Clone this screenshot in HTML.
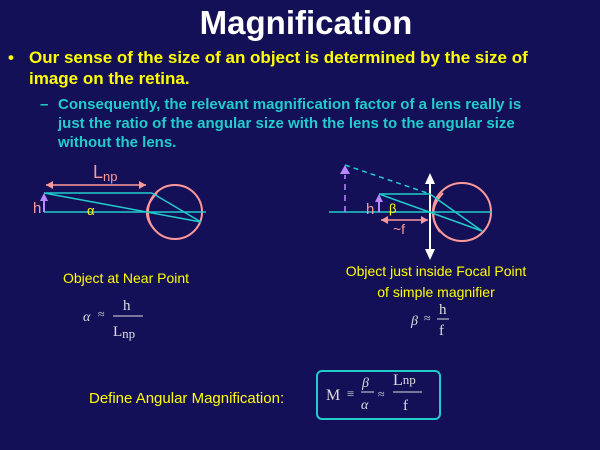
<!DOCTYPE html>
<html><head><style>
body{margin:0;background:#141058;}
svg{display:block}
text{font-family:"Liberation Sans",sans-serif}
.s text{font-family:"Liberation Serif",serif}
</style></head><body>
<svg width="600" height="450" viewBox="0 0 600 450" xmlns="http://www.w3.org/2000/svg">
<rect width="600" height="450" fill="#141058"/>
<text x="306" y="34" font-size="33" font-weight="bold" fill="#fff" text-anchor="middle">Magnification</text>
<text x="8" y="63" font-size="17" font-weight="bold" fill="#ffff00">•</text>
<text x="29" y="63" font-size="17" font-weight="bold" fill="#ffff00">Our sense of the size of an object is determined by the size of</text>
<text x="29" y="84" font-size="17" font-weight="bold" fill="#ffff00">image on the retina.</text>
<text x="40" y="109" font-size="15" font-weight="bold" fill="#22cccc">–</text>
<text x="58" y="109" font-size="15" font-weight="bold" fill="#22cccc">Consequently, the relevant magnification factor of a lens really is</text>
<text x="58" y="128" font-size="15" font-weight="bold" fill="#22cccc">just the ratio of the angular size with the lens to the angular size</text>
<text x="58" y="147" font-size="15" font-weight="bold" fill="#22cccc">without the lens.</text>

<!-- left diagram -->
<g stroke-width="1.5" fill="none">
<circle cx="175" cy="212" r="27" stroke="#ff9999" stroke-width="2"/>
<path d="M157 193 Q138 212 155 230" stroke="#ff9999" stroke-width="2"/>
<line x1="46" y1="185" x2="146" y2="185" stroke="#ff9999"/>
<line x1="44" y1="193" x2="152" y2="193" stroke="#22cccc"/>
<line x1="152" y1="193" x2="201" y2="222" stroke="#22cccc"/>
<line x1="44" y1="193" x2="201" y2="222" stroke="#22cccc"/>
<line x1="44" y1="212" x2="206" y2="212" stroke="#22cccc"/>
<line x1="44" y1="212" x2="44" y2="198" stroke="#bb88ff" stroke-width="2"/>
</g>
<path d="M46 185 l7-4 v8z M146 185 l-7-4 v8z" fill="#ff9999"/>
<path d="M44 193 l-4 8 h8z" fill="#bb88ff"/>
<text x="93" y="178" font-size="18" fill="#ff9999">L<tspan font-size="13" dy="3">np</tspan></text>
<text x="33" y="213" font-size="15" fill="#ff9999">h</text>
<text x="87" y="215" font-size="13" fill="#ffff00">α</text>
<text x="126" y="283" font-size="14" fill="#ffff00" text-anchor="middle">Object at Near Point</text>
<g class="s" fill="#ddd">
<text x="83" y="321" font-size="14" font-style="italic">α</text><text x="98" y="318" font-size="12">≈</text>
<text x="123" y="310" font-size="15">h</text>
<line x1="113" y1="316" x2="143" y2="316" stroke="#ddd"/>
<text x="113" y="336" font-size="15">L<tspan font-size="13" dy="2">np</tspan></text>
</g>

<!-- right diagram -->
<g stroke-width="1.5" fill="none">
<circle cx="462" cy="212" r="29" stroke="#ff9999" stroke-width="2"/>
<path d="M443 193 Q425 212 440 232" stroke="#ff9999" stroke-width="2"/>
<line x1="430" y1="178" x2="430" y2="255" stroke="#fff" stroke-width="2"/>
<line x1="329" y1="212" x2="492" y2="212" stroke="#22cccc"/>
<line x1="379" y1="194" x2="430" y2="194" stroke="#22cccc"/>
<line x1="430" y1="194" x2="482" y2="231" stroke="#22cccc"/>
<line x1="379" y1="194" x2="482" y2="231" stroke="#22cccc"/>
<line x1="345" y1="165" x2="430" y2="194" stroke="#22cccc" stroke-dasharray="5,4"/>
<line x1="345" y1="212" x2="345" y2="175" stroke="#bb88ff" stroke-dasharray="6,5"/>
<line x1="379" y1="212" x2="379" y2="200" stroke="#bb88ff" stroke-width="2"/>
<line x1="381" y1="220" x2="428" y2="220" stroke="#ff9999"/>
</g>
<path d="M430 173 l-5 11 h10z M430 260 l-5-11 h10z" fill="#fff"/>
<path d="M345 165 l-5 9 h10z M379 194 l-4 8 h8z" fill="#bb88ff"/>
<path d="M381 220 l7-4 v8z M428 220 l-7-4 v8z" fill="#ff9999"/>
<text x="366" y="214" font-size="15" fill="#ff9999">h</text>
<text x="389" y="213" font-size="13" fill="#ffff00">β</text>
<text x="393" y="234" font-size="14" fill="#ff9999">~f</text>
<text x="436" y="276" font-size="14" fill="#ffff00" text-anchor="middle">Object just inside Focal Point</text>
<text x="436" y="297" font-size="14" fill="#ffff00" text-anchor="middle">of simple magnifier</text>
<g class="s" fill="#ddd">
<text x="411" y="325" font-size="14" font-style="italic">β</text><text x="424" y="322" font-size="12">≈</text>
<text x="439" y="314" font-size="15">h</text>
<line x1="437" y1="319" x2="449" y2="319" stroke="#ddd"/>
<text x="439" y="335" font-size="15">f</text>
</g>

<text x="89" y="403" font-size="15" fill="#ffff00">Define Angular Magnification:</text>
<rect x="317" y="371" width="123" height="48" rx="5" fill="none" stroke="#22cccc" stroke-width="2"/>
<g class="s" fill="#ddd">
<text x="326" y="400" font-size="16">M</text><text x="347" y="398" font-size="13">≡</text>
<text x="362" y="387" font-size="14" font-style="italic">β</text>
<line x1="361" y1="392" x2="374" y2="392" stroke="#ddd"/>
<text x="361" y="409" font-size="14" font-style="italic">α</text>
<text x="378" y="398" font-size="12">≈</text>
<text x="393" y="385" font-size="16">L<tspan font-size="13" dy="-1">np</tspan></text>
<line x1="393" y1="392" x2="422" y2="392" stroke="#ddd"/>
<text x="403" y="410" font-size="15">f</text>
</g>
</svg>
</body></html>
